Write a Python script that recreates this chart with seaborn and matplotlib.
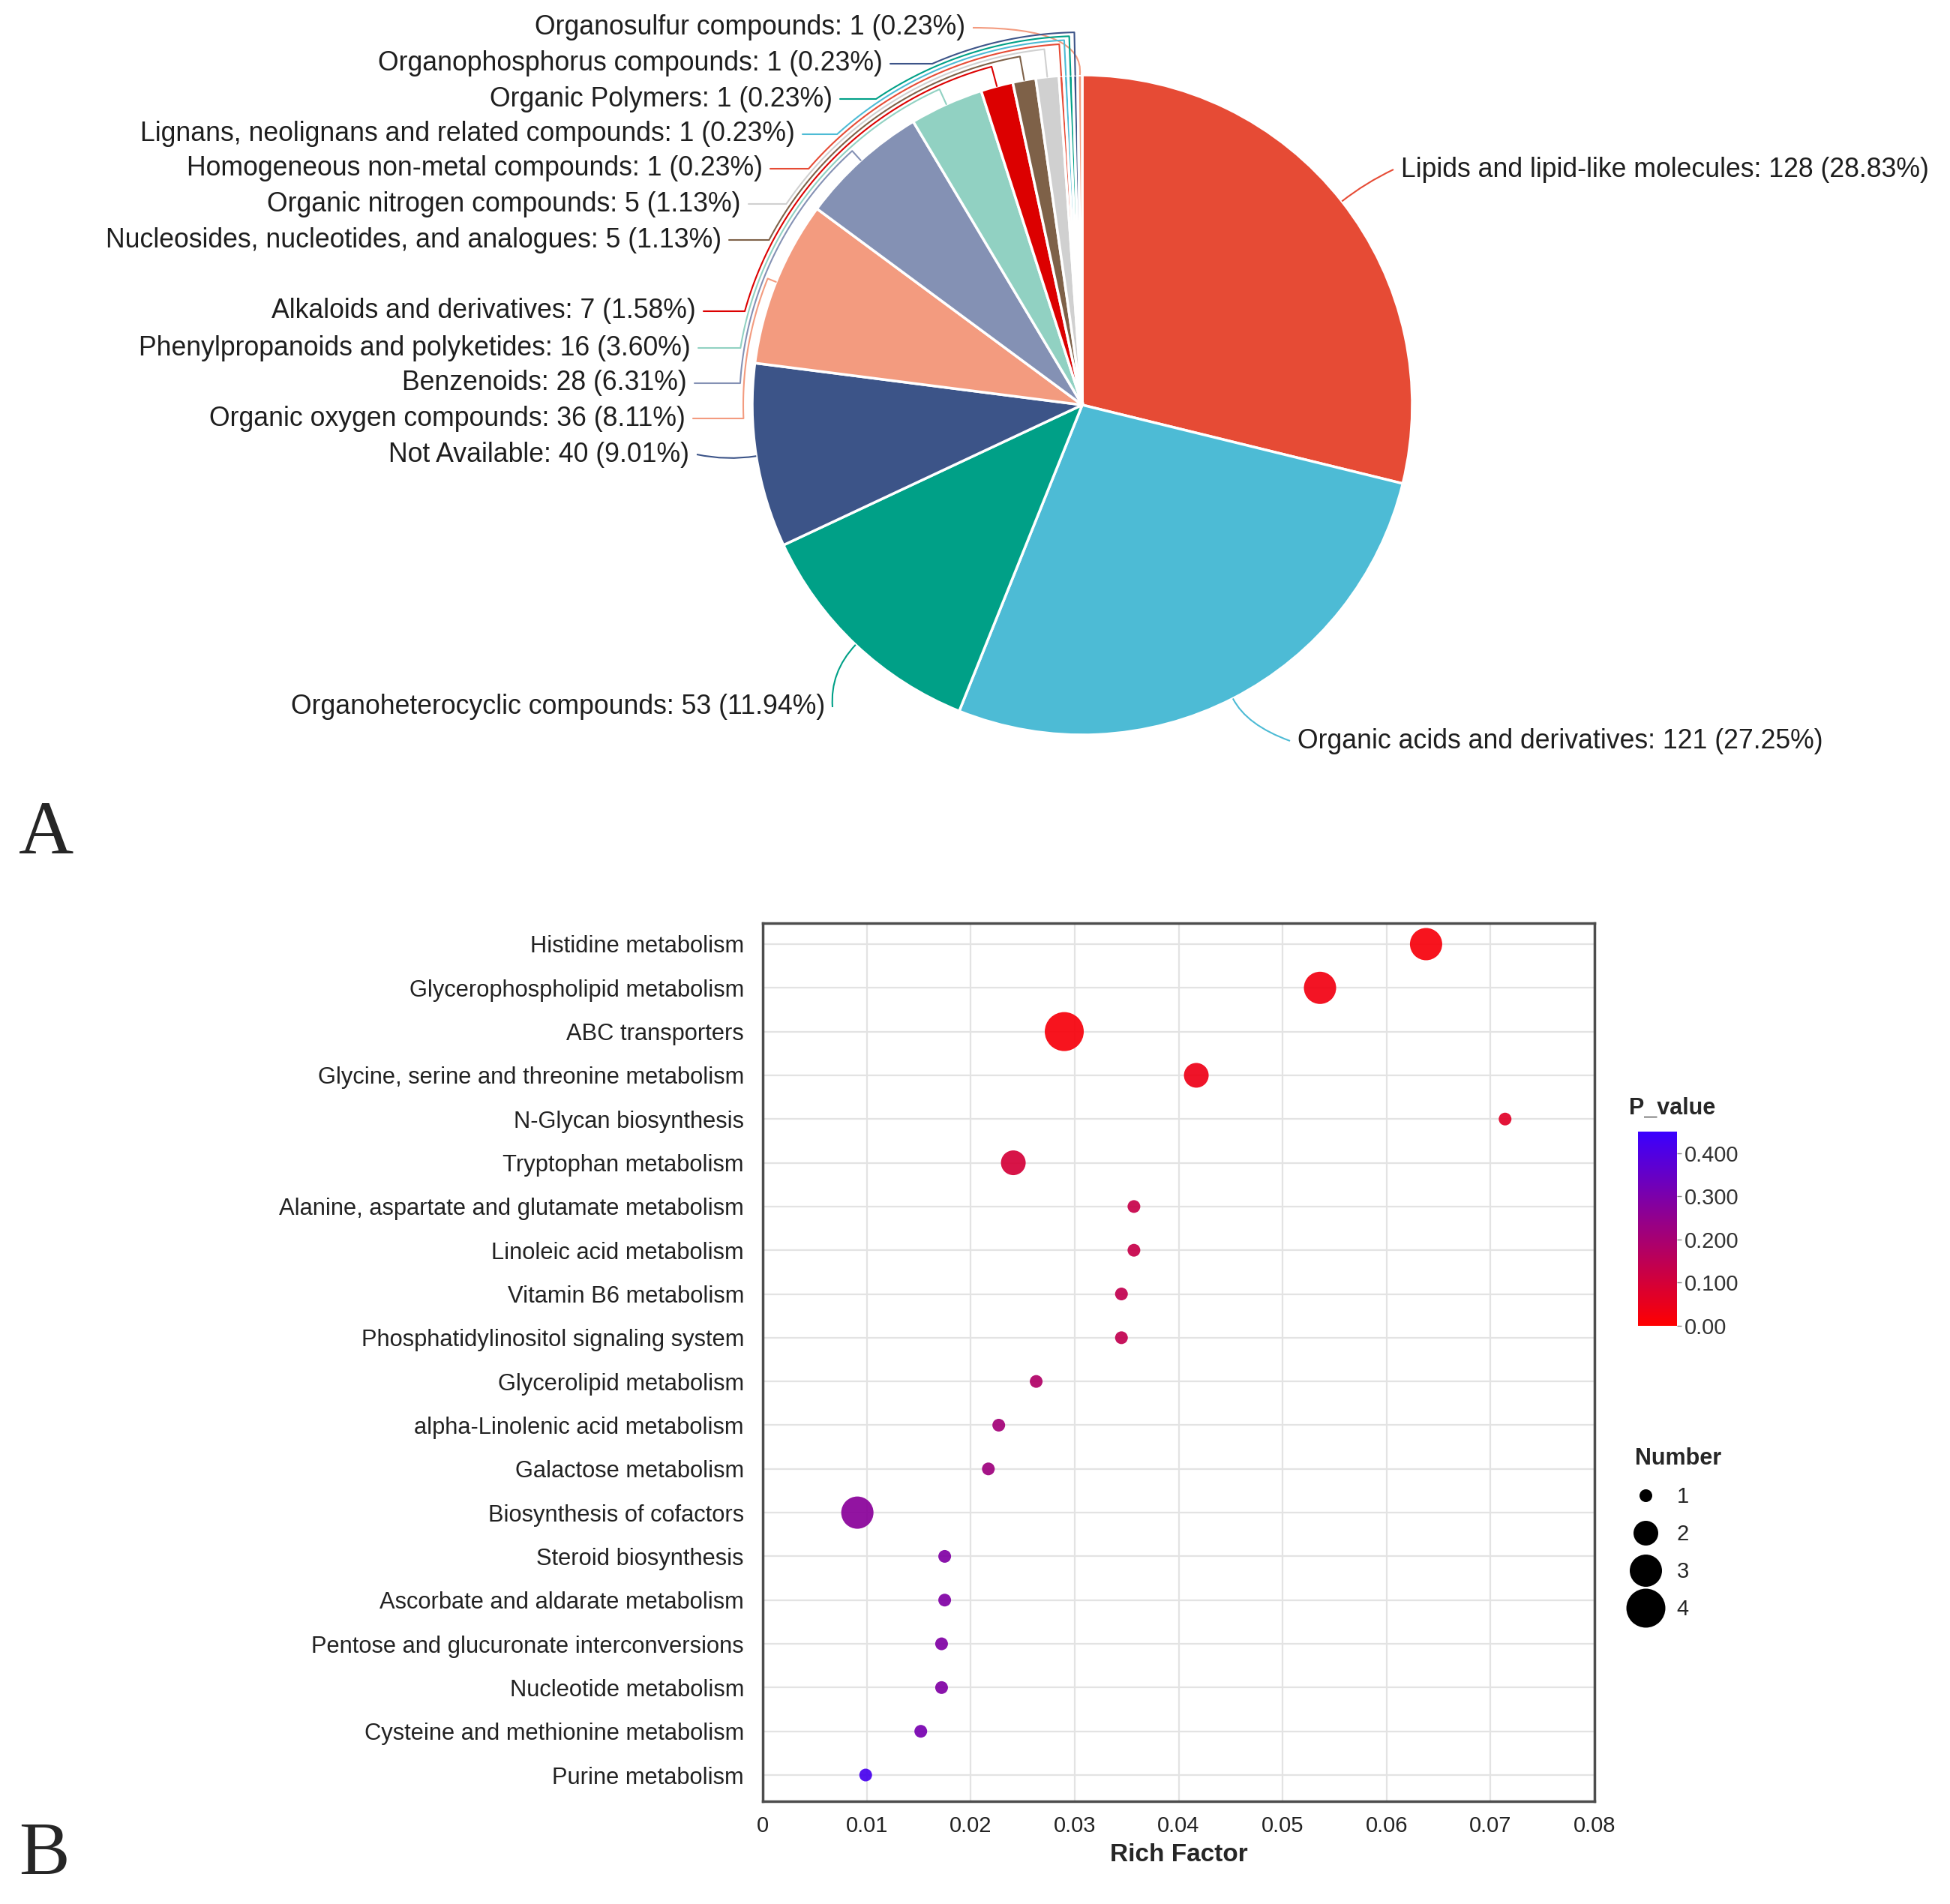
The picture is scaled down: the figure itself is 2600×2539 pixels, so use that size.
import numpy as np
import pandas as pd
import seaborn as sns
import matplotlib.pyplot as plt
from matplotlib.colors import LinearSegmentedColormap, Normalize
from matplotlib.cm import ScalarMappable
from matplotlib.lines import Line2D
from matplotlib.path import Path
from matplotlib.patches import PathPatch

sns.set_style("white")
plt.rcParams['font.family'] = ['Liberation Sans', 'DejaVu Sans']

# ---- panel A data ----
classes = ["Lipids and lipid-like molecules", "Organic acids and derivatives",
           "Organoheterocyclic compounds", "Not Available", "Organic oxygen compounds",
           "Benzenoids", "Phenylpropanoids and polyketides", "Alkaloids and derivatives",
           "Nucleosides, nucleotides, and analogues", "Organic nitrogen compounds",
           "Homogeneous non-metal compounds", "Lignans, neolignans and related compounds",
           "Organic Polymers", "Organophosphorus compounds", "Organosulfur compounds"]
counts = [128, 121, 53, 40, 36, 28, 16, 7, 5, 5, 1, 1, 1, 1, 1]
pie_colors = ["#E64B35", "#4DBBD5", "#00A087", "#3C5488", "#F39B7F", "#8491B4",
              "#91D1C2", "#DC0000", "#7E6148", "#D0D0D0",
              "#E64B35", "#4DBBD5", "#00A087", "#3C5488", "#F39B7F"]

# ---- panel B data ----
pathways = ["Histidine metabolism", "Glycerophospholipid metabolism", "ABC transporters",
            "Glycine, serine and threonine metabolism", "N-Glycan biosynthesis",
            "Tryptophan metabolism", "Alanine, aspartate and glutamate metabolism",
            "Linoleic acid metabolism", "Vitamin B6 metabolism",
            "Phosphatidylinositol signaling system", "Glycerolipid metabolism",
            "alpha-Linolenic acid metabolism", "Galactose metabolism",
            "Biosynthesis of cofactors", "Steroid biosynthesis",
            "Ascorbate and aldarate metabolism", "Pentose and glucuronate interconversions",
            "Nucleotide metabolism", "Cysteine and methionine metabolism", "Purine metabolism"]
rich_factor = [0.0638, 0.0536, 0.0290, 0.0417, 0.0714, 0.0241, 0.0357, 0.0357, 0.0345,
               0.0345, 0.0263, 0.0227, 0.0217, 0.0091, 0.0175, 0.0175, 0.0172, 0.0172,
               0.0152, 0.0099]
number = [3, 3, 4, 2, 1, 2, 1, 1, 1, 1, 1, 1, 1, 3, 1, 1, 1, 1, 1, 1]
p_value = [0.02, 0.03, 0.02, 0.04, 0.07, 0.10, 0.13, 0.13, 0.14, 0.14, 0.18, 0.21, 0.22,
           0.27, 0.29, 0.29, 0.29, 0.29, 0.31, 0.42]

W, H = 2600, 2539
fig = plt.figure(figsize=(W / 100, H / 100), dpi=100)

# ---------- A: pie, drawn in a pixel-coordinate axes ----------
axp = fig.add_axes([0, 0, 1, 1])
cx, cy, R = 1443, 540, 440
wedges, _ = axp.pie(counts, colors=pie_colors, startangle=90, counterclock=False,
                    center=(cx, H - cy), radius=R,
                    wedgeprops=dict(edgecolor="white", linewidth=2.5))
axp.set_xlim(0, W)
axp.set_ylim(0, H)
axp.set_aspect("equal")
axp.axis("off")


def pt(theta, r):
    # theta in degrees clockwise from 12 o'clock, returns data coords
    t = np.deg2rad(theta)
    return cx + r * np.sin(t), H - (cy - r * np.cos(t))


total = sum(counts)
# label anchor (x, y in image px), alignment, leader gap outside the pie
label_pos = [(1868, 226, "left", 40), (1730, 988, "left", 40), (1100, 943, "right", 50),
             (919, 606, "right", 40), (914, 558, "right", 12), (916, 511, "right", 17),
             (921, 464, "right", 22), (928, 415, "right", 27), (962, 320, "right", 32),
             (988, 272, "right", 37), (1017, 225, "right", 42), (1060, 179, "right", 47),
             (1110, 132, "right", 52), (1177, 85, "right", 57), (1287, 37, "right", 62)]

for i, (w, name, n, col, (lx, ly, ha, g)) in enumerate(
        zip(wedges, classes, counts, pie_colors, label_pos)):
    txt = f"{name}: {n} ({n / total * 100:.2f}%)"
    axp.text(lx, H - ly, txt, ha=ha, va="center", fontsize=25.7, color="#1e1e1e")
    # pie() angles are counterclockwise from 3 o'clock; convert to clockwise from top
    th = (90 - (w.theta1 + w.theta2) / 2) % 360
    end = (lx - 10, H - ly) if ha == "left" else (lx + 10, H - ly)
    c = (cy - ly) / (R + g)
    if i < 4 or abs(c) > 1:
        p0 = pt(th, R)
        p1 = pt(th, R + g) if i < 4 else (p0[0] + 6, H - ly)
        path = Path([p0, p1, end], [Path.MOVETO, Path.CURVE3, Path.CURVE3])
        axp.add_patch(PathPatch(path, fc="none", ec=col, lw=1.5))
    else:
        # follow the rim of the pie, then run across to the label
        tt = 360 - np.degrees(np.arccos(c))
        arc = np.linspace(th, tt, 60)
        xs = [pt(th, R)[0]] + [pt(a, R + g)[0] for a in arc] + [end[0]]
        ys = [pt(th, R)[1]] + [pt(a, R + g)[1] for a in arc] + [end[1]]
        axp.plot(xs, ys, color=col, lw=1.5, solid_capstyle="round")

fig.text(25 / W, 1 - 1138 / H, "A", fontsize=73, family="Liberation Serif", va="baseline")
fig.text(25 / W, 1 - 2500 / H, "B", fontsize=73, family="Liberation Serif", va="baseline")

# ---------- B: bubble chart ----------
df = pd.DataFrame({"pathway": pathways, "rich": rich_factor, "number": number, "p": p_value})
cmap = LinearSegmentedColormap.from_list("pv", ["#FF0000", "#3A00FF"])
norm = Normalize(0, 0.45)
size_map = {1: 150, 2: 564, 3: 959, 4: 1400}

L, T, Rr, B = 1017, 1231, 2126, 2402
ax = fig.add_axes([L / W, 1 - B / H, (Rr - L) / W, (B - T) / H])
ax.set_axisbelow(True)
sns.scatterplot(data=df, x="rich", y="pathway", hue="p", size="number", sizes=size_map,
                palette=cmap, hue_norm=norm, legend=False, edgecolor="none", alpha=0.92,
                ax=ax, zorder=3)
ax.set_xlim(0, 0.08)
ax.set_ylim(len(pathways) - 0.4, -0.48)
ticks = np.arange(0, 0.081, 0.01)
ax.set_xticks(ticks)
ax.set_xticklabels(["0"] + [f"{t:.2f}" for t in ticks[1:]])
ax.grid(True, color="#E3E3E3", lw=1.6)
for s in ax.spines.values():
    s.set_color("#4D4D4D")
    s.set_linewidth(2.5)
ax.tick_params(axis="both", direction="out", length=10, width=1.8, color="#4D4D4D",
               labelcolor="#222222")
ax.tick_params(axis="y", labelsize=22.2, pad=8)
ax.tick_params(axis="x", labelsize=21, pad=4)
ax.set_ylabel("")
ax.set_xlabel("Rich Factor", fontsize=24, fontweight="bold", labelpad=6)

# colorbar legend
fig.text(2172 / W, 1 - 1478 / H, "P_value", fontsize=22, fontweight="bold", va="center")
cax = fig.add_axes([2184 / W, 1 - 1768 / H, 52 / W, 259 / H])
cb = fig.colorbar(ScalarMappable(norm=norm, cmap=cmap), cax=cax,
                  ticks=[0, 0.1, 0.2, 0.3, 0.4])
cb.ax.set_yticklabels(["0.00", "0.100", "0.200", "0.300", "0.400"])
cb.outline.set_visible(False)
cb.ax.tick_params(length=4, width=1, color="#888888", labelsize=21, labelcolor="#333333", pad=3)

# size legend
handles = [Line2D([], [], marker="o", ls="", color="black", markeredgewidth=0,
                  markersize=np.sqrt(size_map[k])) for k in [1, 2, 3, 4]]
leg = fig.legend(handles, ["1", "2", "3", "4"], title="Number", loc="upper left",
                 bbox_to_anchor=(2160 / W, 1 - 1910 / H), frameon=False, fontsize=21,
                 title_fontproperties={"weight": "bold", "size": 22},
                 labelspacing=0.75, handlelength=0.9, handletextpad=1.0,
                 borderpad=0.2, alignment="left")

fig.savefig("out.png", dpi=100)
